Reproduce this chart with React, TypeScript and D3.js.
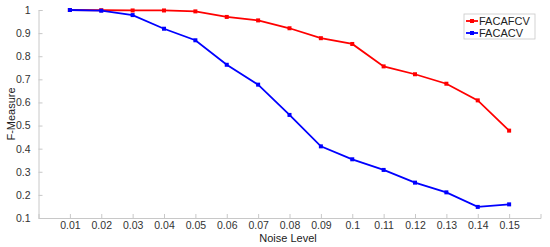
import React, { useEffect, useRef } from "react";
import * as d3 from "d3";

const noiseLevels = [0.01, 0.02, 0.03, 0.04, 0.05, 0.06, 0.07, 0.08, 0.09, 0.1, 0.11, 0.12, 0.13, 0.14, 0.15];
const facafcv = [1.0, 0.999, 0.998, 0.998, 0.994, 0.97, 0.955, 0.921, 0.878, 0.853, 0.756, 0.722, 0.681, 0.609, 0.478];
const facacv = [1.0, 0.997, 0.978, 0.919, 0.869, 0.763, 0.677, 0.546, 0.41, 0.354, 0.308, 0.253, 0.211, 0.148, 0.159];
const yTicks = [0.1, 0.2, 0.3, 0.4, 0.5, 0.6, 0.7, 0.8, 0.9, 1];
const seriesNames = ["FACAFCV", "FACACV"];
const seriesColors = ["#ff0000", "#0000ff"];

const W = 550;
const H = 247;

const App = () => {
  const svgRef = useRef<SVGSVGElement>(null);

  useEffect(() => {
    const svg = d3.select(svgRef.current);
    svg.selectAll("*").remove();

    const x = d3.scaleLinear().domain([0, 0.16]).range([38.5, 540.5]);
    const y = d3.scaleLinear().domain([0.1, 1]).range([218, 10]);
    const font = "'Liberation Sans', Arial, sans-serif";

    // axes
    const xAxis = svg
      .append("g")
      .attr("transform", `translate(0,${y(0.1)})`)
      .call(
        d3
          .axisBottom(x)
          .tickValues(noiseLevels)
          .tickSize(-4)
          .tickPadding(4)
          .tickFormat((d) => String(+d))
      );
    const yAxis = svg
      .append("g")
      .attr("transform", `translate(${x(0)},0)`)
      .call(
        d3
          .axisLeft(y)
          .tickValues(yTicks)
          .tickSize(-4)
          .tickPadding(8)
          .tickFormat((d) => String(+d))
      );
    [xAxis, yAxis].forEach((g) => {
      g.select(".domain").attr("stroke", "#c8c8c8").attr("stroke-width", 1);
      g.selectAll(".tick line").attr("stroke", "#c8c8c8");
      g.selectAll(".tick text")
        .attr("fill", "#333")
        .style("font-family", font)
        .style("font-size", "10.5px");
    });

    // series
    const allSeries = [facafcv, facacv];
    allSeries.forEach((vals, si) => {
      const line = d3
        .line<number>()
        .x((d, i) => x(noiseLevels[i]))
        .y((d) => y(d));
      svg
        .append("path")
        .datum(vals)
        .attr("d", line)
        .attr("fill", "none")
        .attr("stroke", seriesColors[si])
        .attr("stroke-width", 1.8);
      svg
        .append("g")
        .selectAll("rect")
        .data(vals)
        .join("rect")
        .attr("x", (d, i) => x(noiseLevels[i]) - 2)
        .attr("y", (d) => y(d) - 2)
        .attr("width", 4)
        .attr("height", 4)
        .attr("fill", seriesColors[si]);
    });

    // legend
    const lg = svg.append("g").attr("transform", "translate(464,14)");
    lg.append("rect")
      .attr("width", 71)
      .attr("height", 25)
      .attr("fill", "#fff")
      .attr("stroke", "#c8c8c8")
      .attr("stroke-width", 0.8);
    seriesNames.forEach((name, i) => {
      const cy = 7 + i * 12;
      lg.append("line")
        .attr("x1", 2)
        .attr("x2", 14)
        .attr("y1", cy)
        .attr("y2", cy)
        .attr("stroke", seriesColors[i])
        .attr("stroke-width", 1.8);
      lg.append("rect")
        .attr("x", 6)
        .attr("y", cy - 2)
        .attr("width", 4)
        .attr("height", 4)
        .attr("fill", seriesColors[i]);
      lg.append("text")
        .attr("x", 15)
        .attr("y", cy + 4)
        .attr("fill", "#222")
        .style("font-family", font)
        .style("font-size", "11px")
        .text(name);
    });

    // axis titles
    svg
      .append("text")
      .attr("x", 288)
      .attr("y", 242)
      .attr("text-anchor", "middle")
      .attr("fill", "#222")
      .style("font-family", font)
      .style("font-size", "11px")
      .text("Noise Level");
    svg
      .append("text")
      .attr("transform", `translate(15,114) rotate(-90)`)
      .attr("text-anchor", "middle")
      .attr("fill", "#222")
      .style("font-family", font)
      .style("font-size", "11px")
      .text("F-Measure");
  }, []);

  return (
    <svg
      ref={svgRef}
      width={W}
      height={H}
      style={{ position: "absolute", left: 0, top: 0, background: "#fff" }}
    />
  );
};

export default App;
